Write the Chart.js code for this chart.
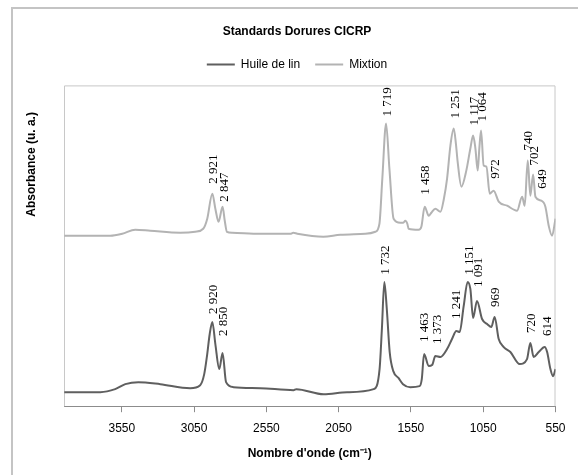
<!DOCTYPE html>
<html>
<head>
<meta charset="utf-8">
<script src="https://cdn.jsdelivr.net/npm/chart.js@4/dist/chart.umd.min.js"></script>
<style>
  html, body { margin: 0; padding: 0; background: #fff; }
  #wrap { width: 578px; height: 475px; }
</style>
</head>
<body>
<div id="wrap"><canvas id="irChart" width="578" height="475"></canvas></div>
<script>
// Wavenumbers (cm-1) and absorbance (offset, arbitrary units)
const huileWn = [3948, 3699, 3596, 3526, 3436, 3284, 3077, 3008, 2980, 2961, 2942, 2924, 2903, 2876, 2853, 2829, 2777, 2592, 2362, 2343, 2154, 1992, 1808, 1767, 1751, 1734, 1717, 1697, 1672, 1635, 1605, 1554, 1490, 1475, 1459, 1427, 1404, 1381, 1346, 1300, 1266, 1236, 1213, 1185, 1158, 1139, 1120, 1093, 1058, 1023, 994, 971, 943, 908, 862, 798, 747, 724, 701, 666, 625, 608, 585, 567, 550];
const huileAbs = [0.14, 0.14, 0.17, 0.22, 0.24, 0.22, 0.18, 0.21, 0.32, 0.50, 0.72, 0.84, 0.62, 0.37, 0.53, 0.24, 0.19, 0.18, 0.16, 0.17, 0.12, 0.14, 0.17, 0.37, 0.77, 1.24, 0.97, 0.54, 0.35, 0.28, 0.22, 0.19, 0.20, 0.27, 0.52, 0.40, 0.41, 0.50, 0.49, 0.57, 0.67, 0.75, 0.74, 1.00, 1.24, 1.17, 0.88, 1.05, 0.87, 0.82, 0.79, 0.89, 0.67, 0.59, 0.54, 0.42, 0.47, 0.63, 0.49, 0.54, 0.59, 0.54, 0.37, 0.30, 0.37];

const mixtionWn = [3948, 3630, 3547, 3457, 3353, 3146, 3042, 2987, 2959, 2924, 2903, 2881, 2853, 2838, 2823, 2786, 2592, 2384, 2364, 2336, 2156, 2038, 1865, 1796, 1768, 1748, 1722, 1699, 1670, 1623, 1603, 1589, 1575, 1566, 1497, 1478, 1455, 1427, 1409, 1381, 1346, 1322, 1300, 1277, 1254, 1239, 1227, 1201, 1167, 1139, 1120, 1104, 1088, 1077, 1065, 1047, 1028, 1005, 978, 943, 885, 816, 781, 763, 742, 724, 705, 689, 648, 620, 597, 574, 550];
const mixtionAbs = [1.70, 1.70, 1.72, 1.76, 1.75, 1.73, 1.74, 1.77, 1.87, 2.12, 1.97, 1.84, 1.99, 1.85, 1.74, 1.73, 1.72, 1.72, 1.73, 1.72, 1.69, 1.71, 1.72, 1.74, 1.82, 2.27, 2.82, 2.37, 1.87, 1.83, 1.83, 1.85, 1.82, 1.77, 1.76, 1.79, 1.99, 1.90, 1.93, 1.97, 1.94, 2.07, 2.27, 2.60, 2.77, 2.62, 2.44, 2.19, 2.35, 2.57, 2.70, 2.57, 2.35, 2.57, 2.75, 2.40, 2.39, 2.12, 2.15, 2.04, 2.00, 1.95, 2.09, 2.00, 2.45, 2.10, 2.31, 2.09, 2.05, 1.99, 1.80, 1.70, 1.87];

// Peak labels (wavenumber) and the absorbance where each label starts
const huilePeaks = [2920, 2850, 1732, 1463, 1373, 1241, 1151, 1091, 969, 720, 614];
const huilePeakAbs = [0.92, 0.70, 1.31, 0.64, 0.62, 0.87, 1.31, 1.19, 0.99, 0.73, 0.70];
const mixtionPeaks = [2921, 2847, 1719, 1458, 1251, 1117, 1064, 972, 740, 702, 649];
const mixtionPeakAbs = [2.22, 2.04, 2.89, 2.11, 2.87, 2.80, 2.84, 2.27, 2.55, 2.40, 2.17];

const tickValues = [3550, 3050, 2550, 2050, 1550, 1050, 550];

const toPoints = (wn, abs) => wn.map((w, i) => ({ x: w, y: abs[i] }));

// "2921" -> "2 921"
function fmtPeak(n) {
  if (n < 1000) return String(n);
  return Math.floor(n / 1000) + ' ' + String(n % 1000).padStart(3, '0');
}

const sansFont = "'Liberation Sans', Arial, sans-serif";

// Outer frame + plot border
const framePlugin = {
  id: 'frame',
  beforeDraw(chart) {
    const c = chart.ctx;
    c.save();
    c.fillStyle = '#fff';
    c.fillRect(0, 0, chart.width, chart.height);
    c.strokeStyle = '#c4c4c4';
    c.lineWidth = 2;
    c.strokeRect(12, 8, 600, 500);
    c.restore();
  },
  beforeDatasetsDraw(chart) {
    const a = chart.chartArea;
    const c = chart.ctx;
    c.save();
    c.strokeStyle = '#c8c8c8';
    c.lineWidth = 1;
    c.beginPath();
    c.moveTo(a.left + 0.5, a.bottom);
    c.lineTo(a.left + 0.5, a.top + 0.5);
    c.lineTo(a.right - 0.5, a.top + 0.5);
    c.lineTo(a.right - 0.5, a.bottom);
    c.stroke();
    c.restore();
  }
};

// Rotated peak labels and y axis title
const peakLabelPlugin = {
  id: 'peakLabels',
  afterDatasetsDraw(chart) {
    const c = chart.ctx;
    const xs = chart.scales.x;
    const ys = chart.scales.y;
    const groups = [[huilePeaks, huilePeakAbs], [mixtionPeaks, mixtionPeakAbs]];
    c.save();
    c.fillStyle = '#000';
    c.font = "13px 'Liberation Serif', 'Times New Roman', serif";
    c.textAlign = 'left';
    c.textBaseline = 'middle';
    groups.forEach(([peaks, abs]) => {
      peaks.forEach((p, i) => {
        c.save();
        c.translate(xs.getPixelForValue(p) + 1, ys.getPixelForValue(abs[i]));
        c.rotate(-Math.PI / 2);
        c.fillText(fmtPeak(p), 0, 0);
        c.restore();
      });
    });

    // y axis title sits in the upper half, as in the original
    c.font = 'bold 12px ' + sansFont;
    c.textAlign = 'center';
    c.translate(32, chart.chartArea.top + 79);
    c.rotate(-Math.PI / 2);
    c.fillText('Absorbance (u. a.)', 0, 0);
    c.restore();
  }
};

// Extra room under the legend
const legendGapPlugin = {
  id: 'legendGap',
  beforeInit(chart) {
    const fit = chart.legend.fit;
    chart.legend.fit = function () {
      fit.bind(chart.legend)();
      this.height += 5;
    };
  }
};

const ctx = document.getElementById('irChart').getContext('2d');

new Chart(ctx, {
  type: 'line',
  data: {
    datasets: [
      {
        label: 'Huile de lin',
        data: toPoints(huileWn, huileAbs),
        borderColor: '#5f5f5f',
        backgroundColor: '#5f5f5f',
        borderWidth: 2,
        pointRadius: 0,
        cubicInterpolationMode: 'monotone',
        fill: false,
      },
      {
        label: 'Mixtion',
        data: toPoints(mixtionWn, mixtionAbs),
        borderColor: '#b3b3b3',
        backgroundColor: '#b3b3b3',
        borderWidth: 2,
        pointRadius: 0,
        cubicInterpolationMode: 'monotone',
        fill: false,
      }
    ]
  },
  options: {
    responsive: false,
    animation: false,
    events: [],
    layout: { padding: { left: 38.5, right: 22.5, top: 0, bottom: 10 } },
    scales: {
      x: {
        type: 'linear',
        reverse: true,
        min: 550,
        max: 3950,
        afterBuildTicks: (scale) => { scale.ticks = tickValues.map(v => ({ value: v })); },
        ticks: {
          callback: (v) => String(v),
          font: { family: sansFont, size: 12 },
          color: '#000',
          padding: 9,
          maxRotation: 0,
          autoSkip: false,
        },
        grid: { display: true, drawOnChartArea: false, drawTicks: true, tickLength: 6, color: '#8c8c8c' },
        border: { display: true, color: '#8c8c8c' },
        title: {
          display: true,
          text: "Nombre d'onde (cm⁻¹)",
          font: { family: sansFont, size: 12, weight: 'bold' },
          color: '#000',
          padding: { top: 2, bottom: 4 },
        }
      },
      y: {
        display: true,
        min: 0,
        max: 3.2,
        ticks: { display: false },
        grid: { display: false },
        border: { display: false },
        afterFit: (scale) => { scale.width = 25.5; }
      }
    },
    plugins: {
      title: {
        display: true,
        text: 'Standards Dorures CICRP',
        font: { family: sansFont, size: 12, weight: 'bold' },
        color: '#000',
        padding: { top: 24, bottom: 5 },
      },
      legend: {
        position: 'top',
        labels: {
          usePointStyle: true,
          pointStyle: 'line',
          pointStyleWidth: 28,
          font: { family: sansFont, size: 12 },
          color: '#000',
          padding: 15,
        }
      },
      tooltip: { enabled: false }
    }
  },
  plugins: [framePlugin, peakLabelPlugin, legendGapPlugin]
});
</script>
</body>
</html>
